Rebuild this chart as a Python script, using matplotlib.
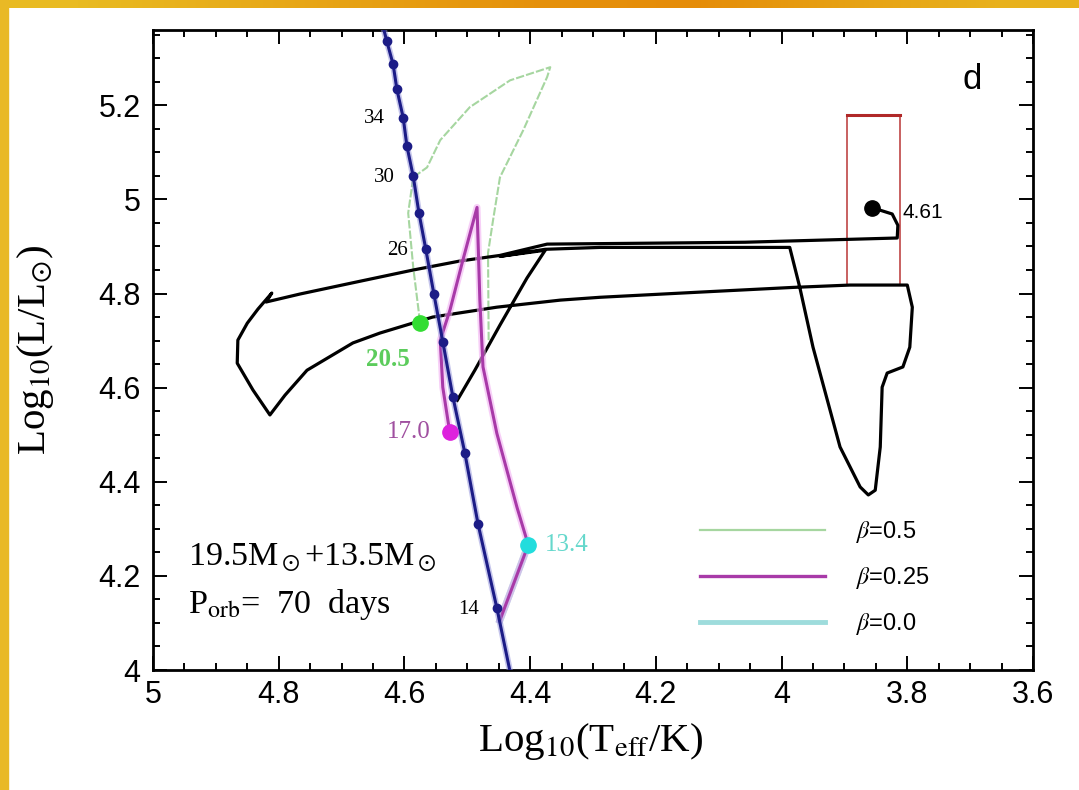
import numpy as np
import matplotlib.pyplot as plt
from matplotlib.lines import Line2D
from matplotlib.patches import Rectangle
from matplotlib.colors import LinearSegmentedColormap

plt.rcParams['font.family'] = ['Liberation Sans', 'DejaVu Sans']
plt.rcParams['mathtext.fontset'] = 'stix'

# ZAMS (mass in Msun, log Teff, log L)
zams_mass = [42, 40, 38, 36, 34, 32, 30, 28, 26, 24, 22, 20, 18, 16, 14, 12]
zams_logt = [4.637, 4.628, 4.618, 4.612, 4.602, 4.596, 4.586, 4.577, 4.566,
             4.553, 4.539, 4.523, 4.504, 4.483, 4.453, 4.421]
zams_logl = [5.383, 5.336, 5.287, 5.234, 5.174, 5.113, 5.049, 4.972, 4.894,
             4.798, 4.698, 4.581, 4.462, 4.311, 4.132, 3.926]
mass_labels = [34, 30, 26, 14]

# primary (donor) track
prim_logt = [4.516, 4.488, 4.448, 4.405, 4.376, 4.448, 4.376, 4.289, 4.130, 3.987,
             3.971, 3.950, 3.907, 3.875, 3.862, 3.851, 3.843, 3.840, 3.832, 3.807,
             3.796, 3.792, 3.800, 3.891, 3.982, 4.130, 4.289, 4.352, 4.453, 4.555,
             4.639, 4.682, 4.755, 4.790, 4.814, 4.841, 4.866, 4.865, 4.850, 4.833,
             4.811, 4.820, 4.766, 4.671, 4.586, 4.512, 4.448, 4.373, 4.209, 4.058,
             3.816, 3.815, 3.824, 3.843, 3.856]
prim_logl = [4.573, 4.637, 4.733, 4.833, 4.892, 4.879, 4.894, 4.898, 4.898, 4.898,
             4.813, 4.686, 4.474, 4.389, 4.372, 4.382, 4.474, 4.601, 4.631, 4.644,
             4.686, 4.771, 4.818, 4.818, 4.813, 4.803, 4.792, 4.786, 4.771, 4.750,
             4.716, 4.695, 4.637, 4.584, 4.542, 4.595, 4.652, 4.701, 4.737, 4.767,
             4.801, 4.782, 4.799, 4.826, 4.850, 4.869, 4.881, 4.905, 4.907, 4.909,
             4.918, 4.945, 4.969, 4.977, 4.979]

# secondary (accretor) tracks
b05_logt = [4.466, 4.467, 4.459, 4.448, 4.411, 4.373, 4.368, 4.432, 4.496, 4.543,
            4.564, 4.586, 4.594, 4.586, 4.575]
b05_logl = [4.701, 4.886, 4.956, 5.047, 5.147, 5.260, 5.281, 5.253, 5.196, 5.126,
            5.068, 5.047, 4.971, 4.856, 4.737]
b025_logt = [4.448, 4.403, 4.421, 4.453, 4.475, 4.480, 4.4845, 4.507, 4.5275, 4.543,
             4.539, 4.528]
b025_logl = [4.106, 4.266, 4.346, 4.503, 4.644, 4.786, 4.983, 4.871, 4.765, 4.701,
             4.601, 4.506]
b00_logt = [4.448, 4.403]
b00_logl = [4.106, 4.266]

# final masses
end_logt = [4.575, 4.528, 4.403, 3.856]
end_logl = [4.737, 4.506, 4.266, 4.981]
end_text = ['20.5', '17.0', '13.4', '4.61']

# observed box
box_logt = [3.896, 3.812]
box_logl = [4.822, 5.179]

fig = plt.figure(figsize=(10.79, 7.90), dpi=100)
ax = fig.add_axes([153/1079, 120/790, 880/1079, 640/790])

c_green = '#a6d6a0'
c_mag = '#a83aa8'
c_cyan = '#9edcdc'
c_blue = '#1c1c86'
serif = 'Liberation Serif'

ax.plot(b05_logt, b05_logl, color=c_green, lw=1.5, ls=(0, (4, 1)), zorder=2)
bx = [box_logt[0], box_logt[0], box_logt[1], box_logt[1]]
by = [box_logl[0], box_logl[1], box_logl[1], box_logl[0]]
ax.plot(bx, by, color='#c86060', lw=1.4, zorder=2)
ax.plot(box_logt, [box_logl[1], box_logl[1]], color='#b02828', lw=2.2, zorder=2)
ax.plot(prim_logt, prim_logl, color='black', lw=2.3, zorder=3)
ax.plot(b00_logt, b00_logl, color=c_cyan, lw=5, zorder=3)
ax.plot(b025_logt, b025_logl, color='#f2b0f2', lw=5, alpha=0.6, zorder=4)
ax.plot(b025_logt, b025_logl, color=c_mag, lw=2.2, zorder=4)
ax.plot(zams_logt, zams_logl, color='#8c8cd8', lw=4.5, alpha=0.5, zorder=5)
ax.plot(zams_logt, zams_logl, color=c_blue, lw=2.2, marker='o', ms=6, zorder=5)

for m, t, l in zip(zams_mass, zams_logt, zams_logl):
    if m in mass_labels:
        ax.annotate(str(m), (t, l), xytext=(-13, -1), textcoords='offset points',
                    ha='right', va='center', fontsize=15, family=serif)

end_cols = ['#33dd33', '#dd22dd', '#22dddd', 'black']
for t, l, c in zip(end_logt, end_logl, end_cols):
    ax.plot(t, l, 'o', color=c, ms=11, zorder=7)
ax.annotate(end_text[0], (end_logt[0], end_logl[0]), xytext=(-23, -26), textcoords='offset points',
            ha='center', va='center', fontsize=18, color='#5ccc5c', family=serif, weight='bold')
ax.annotate(end_text[1], (end_logt[1], end_logl[1]), xytext=(-14, 0), textcoords='offset points',
            ha='right', va='center', fontsize=18, color='#a050a0', family=serif)
ax.annotate(end_text[2], (end_logt[2], end_logl[2]), xytext=(12, 0), textcoords='offset points',
            ha='left', va='center', fontsize=18, color='#66d8cc', family=serif)
ax.annotate(end_text[3], (end_logt[3], end_logl[3]), xytext=(22, -3), textcoords='offset points',
            ha='left', va='center', fontsize=15)

ax.text(0.040, 0.175, r'19.5M$_\odot$+13.5M$_\odot$', transform=ax.transAxes,
        fontsize=24.5, family=serif, va='center')
ax.text(0.040, 0.102, r'P$_{\rm orb}$=  70  days', transform=ax.transAxes,
        fontsize=24.5, family=serif, va='center')
ax.text(0.931, 0.922, 'd', transform=ax.transAxes, fontsize=25, ha='center', va='center')

handles = [Line2D([], [], color=c_green, lw=1.6),
           Line2D([], [], color=c_mag, lw=2.4),
           Line2D([], [], color=c_cyan, lw=3.5)]
ax.legend(handles, [r'$\beta$=0.5', r'$\beta$=0.25', r'$\beta$=0.0'], loc='center',
          bbox_to_anchor=(0.752, 0.144), frameon=False, fontsize=17,
          handlelength=5.3, handletextpad=1.3, labelspacing=0.85, borderpad=0)

ax.set_xlim(5, 3.6)
ax.set_ylim(4, 5.36)
ax.set_xticks(np.arange(3.6, 5.01, 0.2))
ax.set_xticks(np.arange(3.6, 5.01, 0.05), minor=True)
ax.set_yticks(np.arange(4, 5.21, 0.2))
ax.set_yticks(np.arange(4, 5.36, 0.05), minor=True)
ax.set_xticklabels(['3.6', '3.8', '4', '4.2', '4.4', '4.6', '4.8', '5'])
ax.set_yticklabels(['4', '4.2', '4.4', '4.6', '4.8', '5', '5.2'])
ax.tick_params(which='both', direction='in', top=True, right=True, width=1.4, labelsize=22)
ax.tick_params(which='major', length=10)
ax.tick_params(which='minor', length=5)
ax.tick_params(axis='x', pad=7)
ax.tick_params(axis='y', pad=9)
for s in ax.spines.values():
    s.set_linewidth(2)

ax.set_xlabel(r'Log$_{10}$(T$_{\rm eff}$/K)', fontsize=29.5, family=serif, va='center')
ax.xaxis.set_label_coords(0.497, -0.112)
ax.set_ylabel(r'Log$_{10}$(L/L$_{\odot}$)', fontsize=29.5, family=serif, va='center')
ax.yaxis.set_label_coords(-0.133, 0.5)

# yellow frame
fig.patches.append(Rectangle((0, 0), 8/1079, 1, transform=fig.transFigure,
                             color='#e9b925', zorder=10))
grad = np.array([[0.0, 0.3, 0.6, 0.9, 1.0, 0.55, 0.2]])
strip = fig.add_axes([0, 1 - 8/790, 1, 8/790])
cm = LinearSegmentedColormap.from_list('frame', ['#e9bb22', '#e58c08'])
strip.imshow(grad, cmap=cm, aspect='auto', interpolation='bilinear')
strip.axis('off')

fig.savefig('out.png', dpi=100)
